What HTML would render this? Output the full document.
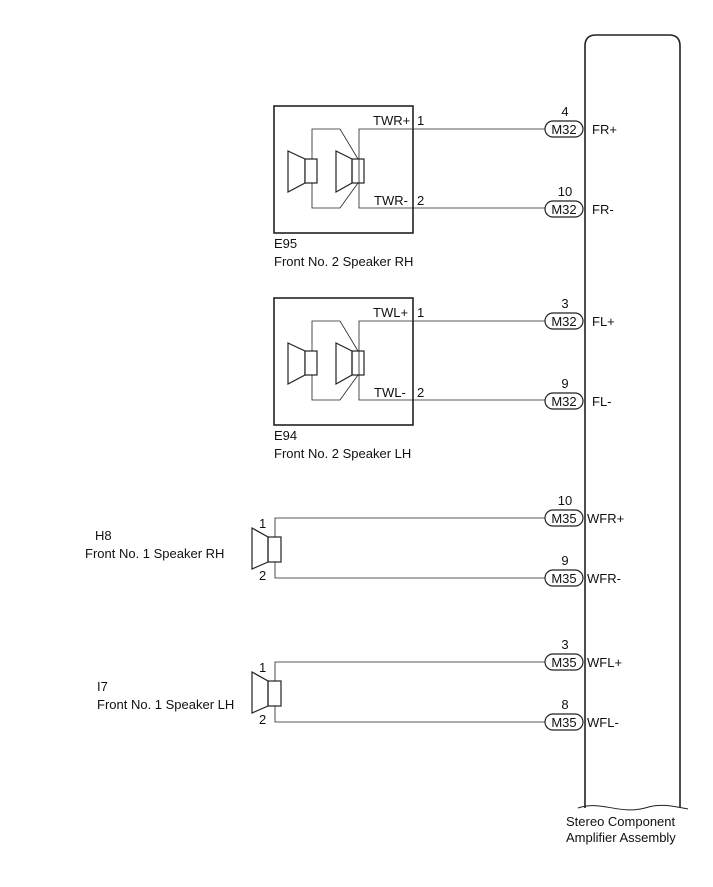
<!DOCTYPE html>
<html><head><meta charset="utf-8"><style>
body{margin:0;background:#fff}
svg text{font-family:"Liberation Sans",sans-serif;font-size:13px;fill:#111}
</style></head><body>
<svg width="713" height="882" viewBox="0 0 713 882" xmlns="http://www.w3.org/2000/svg">
<g fill="none" stroke="#222" stroke-width="1.2">
<path d="M585,808 L585,46 Q585,35 596,35 L669,35 Q680,35 680,46 L680,808" stroke-width="1.6"/>
<path d="M578,808 C600,800 620,815 645,808 C660,803 672,806 688,809" stroke-width="1"/>
</g>
<g id="tw" fill="none" stroke="#222">
<rect x="274" y="106" width="139" height="127" stroke-width="1.6"/>
<polyline points="312,171 312,129 340,129 358,159" stroke-width="0.8"/>
<polyline points="312,171 312,208 340,208 358,183" stroke-width="0.8"/>
<polygon points="288,151 305,159 305,183 288,192" fill="#fff" stroke-width="1.2"/>
<rect x="305" y="159" width="12" height="24" fill="#fff" stroke-width="1.2"/>
<polygon points="336,151 352,159 352,183 336,192" fill="#fff" stroke-width="1.2"/>
<rect x="352" y="159" width="12" height="24" stroke-width="1.2"/>
<polyline points="545,129 359,129 359,208 545,208" stroke-width="0.8"/>
</g>
<use href="#tw" y="192"/>
<g font-size="13">
<text x="373" y="125">TWR+</text><text x="417" y="125">1</text>
<text x="374" y="205">TWR-</text><text x="417" y="205">2</text>
<text x="274" y="248">E95</text><text x="274" y="266">Front No. 2 Speaker RH</text>
<text x="373" y="317">TWL+</text><text x="417" y="317">1</text>
<text x="374" y="397">TWL-</text><text x="417" y="397">2</text>
<text x="274" y="440">E94</text><text x="274" y="458">Front No. 2 Speaker LH</text>
</g>
<g id="wf" fill="none" stroke="#222">
<polygon points="252,528 268,537 268,562 252,569" stroke-width="1.2"/>
<rect x="268" y="537" width="13" height="25" stroke-width="1.2"/>
<polyline points="545,518 275,518 275,537" stroke-width="0.8"/>
<polyline points="275,562 275,578 545,578" stroke-width="0.8"/>
</g>
<use href="#wf" y="144"/>
<text x="259" y="528">1</text><text x="259" y="580">2</text>
<text x="95" y="540">H8</text><text x="85" y="558">Front No. 1 Speaker RH</text>
<text x="259" y="672">1</text><text x="259" y="724">2</text>
<text x="97" y="691">I7</text><text x="97" y="709">Front No. 1 Speaker LH</text>
<g fill="#fff" stroke="#222" stroke-width="1.2">
<rect x="545" y="121" width="38" height="16" rx="8"/>
<rect x="545" y="201" width="38" height="16" rx="8"/>
<rect x="545" y="313" width="38" height="16" rx="8"/>
<rect x="545" y="393" width="38" height="16" rx="8"/>
<rect x="545" y="510" width="38" height="16" rx="8"/>
<rect x="545" y="570" width="38" height="16" rx="8"/>
<rect x="545" y="654" width="38" height="16" rx="8"/>
<rect x="545" y="714" width="38" height="16" rx="8"/>
</g>
<g text-anchor="middle">
<text x="564" y="134">M32</text><text x="564" y="214">M32</text>
<text x="564" y="326">M32</text><text x="564" y="406">M32</text>
<text x="564" y="523">M35</text><text x="564" y="583">M35</text>
<text x="564" y="667">M35</text><text x="564" y="727">M35</text>
<text x="565" y="116">4</text><text x="565" y="196">10</text>
<text x="565" y="308">3</text><text x="565" y="388">9</text>
<text x="565" y="505">10</text><text x="565" y="565">9</text>
<text x="565" y="649">3</text><text x="565" y="709">8</text>
</g>
<text x="592" y="134">FR+</text><text x="592" y="214">FR-</text>
<text x="592" y="326">FL+</text><text x="592" y="406">FL-</text>
<text x="587" y="523">WFR+</text><text x="587" y="583">WFR-</text>
<text x="587" y="667">WFL+</text><text x="587" y="727">WFL-</text>
<text x="566" y="826">Stereo Component</text>
<text x="566" y="842">Amplifier Assembly</text>
</svg>
</body></html>
